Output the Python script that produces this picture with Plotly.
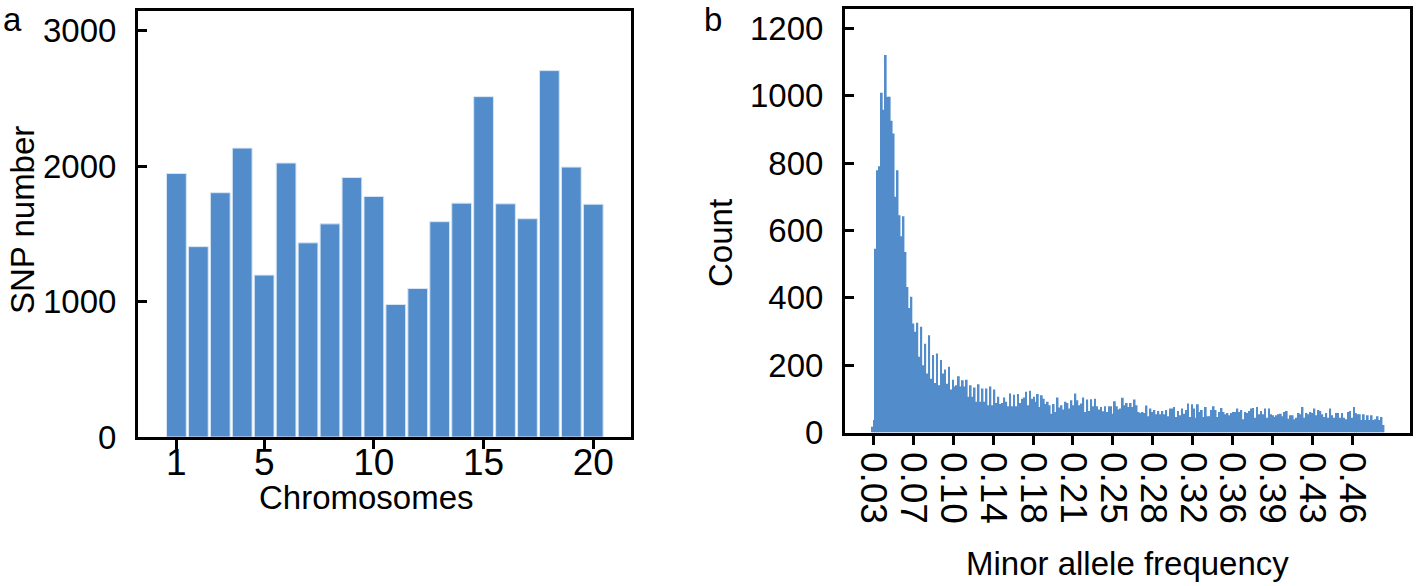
import plotly.graph_objects as go

W, H = 1418, 586

# ---------------- data ----------------
chromosomes = list(range(1, 21))
snp_counts = [1945, 1405, 1803, 2132, 1195, 2022, 1433, 1573, 1915, 1775,
              978, 1096, 1589, 1726, 2512, 1721, 1611, 2704, 1992, 1718]
chrom_ticks = [1, 5, 10, 15, 20]
snp_ticks = [0, 1000, 2000, 3000]

maf_bin_start = 0.0297
maf_bin_end = 0.4933
maf_counts = [
    17, 37, 546, 779, 791, 1009, 959, 1121, 997, 997, 926, 888, 700, 779, 645, 583, 642, 536, 432, 370, 403, 324,
    299, 326, 225, 314, 200, 264, 175, 289, 160, 230, 147, 235, 140, 215, 175, 187, 145, 195, 128, 157, 137, 140, 167, 137, 155, 137,
    157, 106, 140, 106, 134, 91, 143, 91, 131, 91, 131, 81, 137, 81, 128, 88, 106, 85, 88, 104, 91, 78, 116, 78, 112, 78, 114, 88,
    100, 104, 121, 81, 124, 100, 106, 91, 114, 76, 111, 100, 85, 91, 81, 56, 85, 61, 104, 74, 81, 68, 91,
    88, 71, 96, 81, 116, 96, 81, 86, 104, 61, 98, 64, 99, 78, 100, 78, 68, 76, 63, 78, 61, 78, 78, 56, 93, 78, 68, 71, 103, 81,
    88, 76, 88, 76, 98, 81, 61, 58, 61, 58, 80, 48, 71, 61, 67, 54, 64, 54, 64, 54, 67, 48, 71,
    71, 76, 46, 64, 51, 71, 56, 67, 86, 46, 84, 71, 44, 84, 61, 67, 46, 76, 48, 48, 67, 78, 67, 46, 61, 73, 61, 54, 58, 51,
    58, 61, 61, 71, 61, 67, 39, 61, 58, 64, 71, 73, 44, 76, 54, 64, 54, 71, 44, 71, 54, 51, 46, 51,
    54, 56, 48, 61, 64, 41, 51, 51, 39, 44, 58, 54, 76, 44, 58, 54, 61, 58, 71, 51, 67, 64, 54, 46, 58, 44, 71, 51, 44, 58,
    58, 44, 58, 44, 39, 61, 64, 44, 76, 58, 54, 54, 37, 54, 37, 51, 37, 51, 37, 39, 48, 37, 46, 22,
]
maf_tick_vals = [0.032, 0.068, 0.104, 0.140, 0.176, 0.212, 0.248, 0.284, 0.320, 0.356, 0.392, 0.428, 0.464]
maf_tick_text = ["0.03", "0.07", "0.10", "0.14", "0.18", "0.21", "0.25", "0.28", "0.32", "0.36", "0.39", "0.43", "0.46"]
count_ticks = [0, 200, 400, 600, 800, 1000, 1200]

# ---------------- derived bin geometry ----------------
n_bins = len(maf_counts)
bw = (maf_bin_end - maf_bin_start) / n_bins
maf_centers = [maf_bin_start + (i + 0.5) * bw for i in range(n_bins)]

BAR = "#528CCA"
FONT = "Liberation Sans, Arial, sans-serif"
FS = 33
FSX = 37

fig = go.Figure()
fig.add_trace(go.Bar(x=chromosomes, y=snp_counts, width=0.9,
                     marker=dict(color=BAR, line=dict(color="rgba(215,229,245,1)", width=1)),
                     xaxis="x", yaxis="y", showlegend=False))
fig.add_trace(go.Bar(x=maf_centers, y=maf_counts, width=bw * 0.9,
                     marker=dict(color=BAR, line=dict(width=0)),
                     xaxis="x2", yaxis="y2", showlegend=False))
# empty trace so the label-only overlay axis for panel a is drawn
fig.add_trace(go.Scatter(x=chrom_ticks, y=[0] * len(chrom_ticks), mode="none",
                         xaxis="x3", yaxis="y", showlegend=False, hoverinfo="skip"))


def px_x(p):
    return p / W


def px_y(p):
    return 1 - p / H


axis_common = dict(showline=True, linecolor="black", linewidth=3, mirror=True,
                   showgrid=False, zeroline=False, ticks="outside", tickwidth=2.5,
                   ticklen=9, tickcolor="black", automargin=False,
                   tickfont=dict(family=FONT, size=FS, color="black"))
xfont = dict(family=FONT, size=FSX, color="black")
xa_dom = [px_x(138), px_x(631)]
xa_rng = [-0.75, 21.72]

fig.update_layout(
    width=W, height=H, margin=dict(l=0, r=0, t=0, b=0),
    paper_bgcolor="white", plot_bgcolor="white",
    font=dict(family=FONT, size=FS, color="black"),
    xaxis=dict(domain=xa_dom, range=xa_rng, tickvals=chrom_ticks, showticklabels=False,
               anchor="y", **axis_common),
    xaxis3=dict(domain=xa_dom, range=xa_rng, tickvals=chrom_ticks, overlaying="x",
                anchor="y", side="bottom", showline=False, showgrid=False, zeroline=False,
                ticks="", automargin=False, tickfont=xfont),
    yaxis=dict(domain=[px_y(437), px_y(11)], range=[0, 3144],
               tickvals=snp_ticks, anchor="x", **{**axis_common, "ticks": "inside"},
               ticklabelstandoff=12),
    xaxis2=dict(domain=[px_x(845), px_x(1410)], range=[0.0063, 0.5163],
                tickvals=maf_tick_vals, ticktext=maf_tick_text, tickangle=90,
                anchor="y2", **{**axis_common, "tickfont": xfont}),
    yaxis2=dict(domain=[px_y(432.5), px_y(9)], range=[0, 1258],
                tickvals=count_ticks, anchor="x2", **{**axis_common, "ticks": "inside"},
                ticklabelstandoff=12),
)

ann = [
    ("a", 12, 19, 0), ("b", 713, 19, 0),
    ("SNP number", 22, 220, -90), ("Chromosomes", 366, 497, 0),
    ("Count", 720, 243, -90), ("Minor allele frequency", 1127, 563, 0),
]
for text, x, y, ang in ann:
    fig.add_annotation(text=text, x=px_x(x), y=px_y(y), xref="paper", yref="paper",
                       xanchor="center", yanchor="middle", showarrow=False, textangle=ang,
                       font=dict(family=FONT, size=FS, color="black"))

fig.write_html("out.html", post_script="document.body.style.margin='0';",
               config={"displayModeBar": False})
